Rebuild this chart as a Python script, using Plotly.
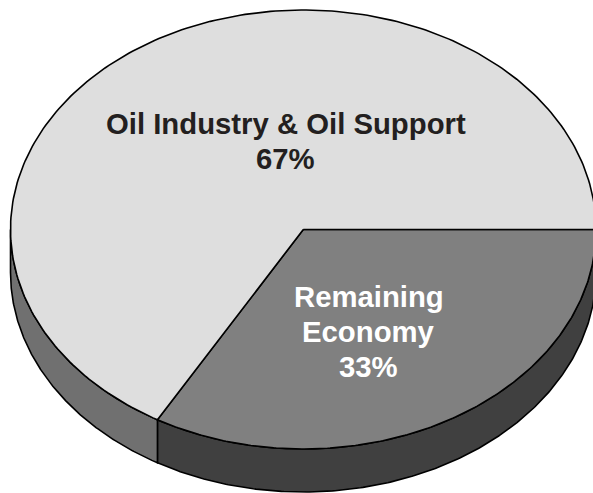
import numpy as np
import plotly.graph_objects as go

# --- data ---
categories = ["Remaining Economy", "Oil Industry & Oil Support"]
shares = [33.3, 66.7]
percent_labels = ["33%", "67%"]
top_colors = ["#808080", "#DEDEDE"]
side_colors = ["#404040", "#707070"]
label_colors = ["white", "#231F20"]
label_lines = [["Remaining", "Economy", "33%"], ["Oil Industry & Oil Support", "67%"]]
label_x = [368.5, 285.7]
label_y = [[296, 331, 366], [123, 158]]

# --- geometry of the drawing, in page pixels ---
CX, CY, RX, RY, DEPTH = 303.3, 229.5, 292.8, 219.5, 43
FONT = "Liberation Sans, Arial, sans-serif"


def arc(a0, a1):
    t = np.radians(np.linspace(a0, a1, 240))
    return CX + RX * np.cos(t), CY + RY * np.sin(t)


fig = go.Figure()
edge = dict(color="black", width=1.6)


def poly(x, y, color):
    fig.add_trace(go.Scatter(x=x, y=y, mode="lines", fill="toself", fillcolor=color,
                             line=edge, hoverinfo="skip", showlegend=False, cliponaxis=True))


# slices run clockwise from 3 o'clock
total = sum(shares)
start = 0.0
spans = []
for s in shares:
    spans.append((start, start + s / total * 360))
    start += s / total * 360

# outer walls: only the front half (0-180 degrees) of the disc is visible
for (a0, a1), col in zip(spans, side_colors):
    lo, hi = max(a0, 0), min(a1, 180)
    if lo < hi:
        x, y = arc(lo, hi)
        poly(np.r_[x, x[::-1], x[0]], np.r_[y, y[::-1] + DEPTH, y[0]], col)

# top faces
for (a0, a1), col in zip(spans, top_colors):
    x, y = arc(a0, a1)
    poly(np.r_[CX, x, CX], np.r_[CY, y, CY], col)

# labels
for lines, lx, ys, col in zip(label_lines, label_x, label_y, label_colors):
    for line, ly in zip(lines, ys):
        fig.add_annotation(x=lx, y=ly, text=f"<b>{line}</b>", showarrow=False,
                           font=dict(family=FONT, size=29.3, color=col),
                           xanchor="center", yanchor="middle")

fig.update_xaxes(range=[0, 593], visible=False, fixedrange=True)
fig.update_yaxes(range=[493, 0], visible=False, fixedrange=True)
fig.update_layout(width=593, height=493, margin=dict(l=0, r=0, t=0, b=0),
                  paper_bgcolor="white", plot_bgcolor="white", showlegend=False)
fig.write_html("out.html", config={"displayModeBar": False},
               post_script="document.body.style.margin='0';")
